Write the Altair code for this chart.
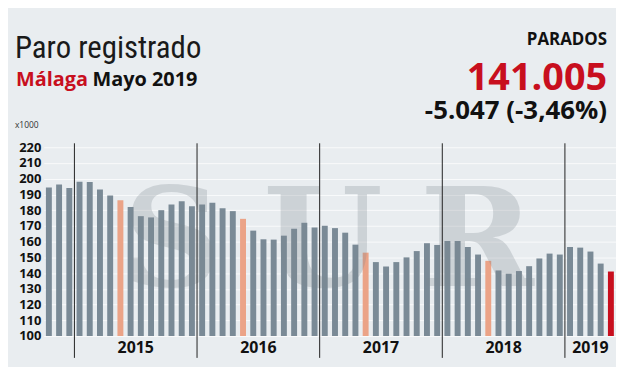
import altair as alt
import pandas as pd

# ---- data (thousands of registered unemployed, Málaga) ----
start_year = 2014
start_month = 10
values = [
    # 2014 Oct-Dec
    194.4, 196.4, 194.1,
    # 2015
    198.1, 197.9, 193.1, 189.3, 186.3, 182.1, 176.2, 175.4, 180.0, 183.6, 185.7, 182.5,
    # 2016
    183.6, 184.8, 181.3, 179.4, 174.5, 167.0, 161.5, 161.3, 163.8, 168.2, 172.0, 169.0,
    # 2017
    170.1, 168.6, 165.7, 158.1, 153.0, 147.0, 144.2, 147.0, 150.0, 154.0, 159.0, 157.9,
    # 2018
    160.4, 160.4, 156.6, 151.8, 147.8, 141.7, 139.6, 141.3, 144.4, 149.3, 152.4, 151.8,
    # 2019
    156.6, 156.2, 153.7, 146.052, 141.005,
]
year_labels = ["2015", "2016", "2017", "2018", "2019"]
year_anchor = ["2015-06", "2016-06", "2017-06", "2018-06", "2019-03"]
divider_months = ["2015-01", "2016-01", "2017-01", "2018-01", "2019-01"]
y_ticks = list(range(100, 221, 10))

months = []
y, m = start_year, start_month
for _ in values:
    months.append(f"{y}-{m:02d}")
    m += 1
    if m > 12:
        m = 1
        y += 1

kinds = []
for i, mo in enumerate(months):
    if i == len(months) - 1:
        kinds.append("actual")
    elif mo.endswith("-05"):
        kinds.append("mayo")
    else:
        kinds.append("normal")

df = pd.DataFrame({"month": months, "value": values, "kind": kinds})

W, H = 576, 190
STEP = W / len(values)

xscale = alt.Scale(domain=months, paddingInner=0.42, paddingOuter=0.21)
xenc = alt.X("month:N", sort=months, scale=xscale, axis=None)

bars = alt.Chart(df).mark_bar().encode(
    x=xenc,
    y=alt.Y(
        "value:Q",
        scale=alt.Scale(domain=[100, 220], nice=False, zero=False),
        axis=alt.Axis(
            values=y_ticks, title=None, domain=False, ticks=False,
            labelFontSize=13, labelFontWeight="bold", labelPadding=3,
            labelColor="#111", labelFont="Open Sans",
            grid=True, gridColor="#ffffff", gridOpacity=0.75,
        ),
    ),
    y2=alt.datum(100),
    color=alt.Color(
        "kind:N",
        scale=alt.Scale(domain=["normal", "mayo", "actual"],
                        range=["#7a8a96", "#eba387", "#c80f1e"]),
        legend=None,
    ),
)

div_df = pd.DataFrame({"month": divider_months})
dividers = alt.Chart(div_df).mark_rule(color="#222", strokeWidth=1, xOffset=-STEP / 2).encode(
    x=xenc, y=alt.value(-4), y2=alt.value(H + 22)
)

ydf = pd.DataFrame({"month": year_anchor[:4], "label": year_labels[:4]})
years1 = alt.Chart(ydf).mark_text(
    dx=STEP / 2, font="Open Sans", fontSize=16, fontWeight="bold", color="#111", baseline="alphabetic"
).encode(x=xenc, y=alt.value(H + 17), text="label:N")
ydf2 = pd.DataFrame({"month": year_anchor[4:], "label": year_labels[4:]})
years2 = alt.Chart(ydf2).mark_text(
    font="Open Sans", fontSize=16, fontWeight="bold", color="#111", baseline="alphabetic"
).encode(x=xenc, y=alt.value(H + 17), text="label:N")


def txt(s, x, y, size, weight="normal", color="#111", align="left",
        font="Open Sans", opacity=1.0):
    return alt.Chart(pd.DataFrame({"t": [s]})).mark_text(
        align=align, baseline="alphabetic", font=font, fontSize=size,
        fontWeight=weight, color=color, opacity=opacity,
    ).encode(x=alt.value(x), y=alt.value(y), text="t:N")


# watermark
wm_font = "'DejaVu Serif', 'Liberation Serif', serif"
wm = [
    txt("S", 129, 140, 138, "bold", "#7d878f", "center", wm_font, 0.26),
    txt("U", 281, 140, 138, "bold", "#7d878f", "center", wm_font, 0.26),
    txt("R", 436, 140, 138, "bold", "#7d878f", "center", wm_font, 0.26),
]

header = [
    txt("Paro registrado", -29, -90, 31, "normal", "#1a1a1a", "left",
        "'Liberation Sans Narrow', 'Roboto Condensed', 'Open Sans', sans-serif"),
    txt("Málaga", -28, -62, 20, "bold", "#c80f1e"),
    txt("Mayo 2019", 49, -62, 20, "bold", "#111"),
    txt("x1000", -29, -19, 8.5, "normal", "#333"),
    txt("PARADOS", 567, -103, 17, "bold", "#111", "right"),
    txt("141.005", 567, -58, 38, "bold", "#c80f1e", "right"),
    txt("-5.047 (-3,46%)", 567, -28, 26, "bold", "#111", "right"),
]

chart = alt.layer(bars, *wm, dividers, years1, years2, *header).properties(
    width=W, height=H,
    autosize=alt.AutoSizeParams(type="none"),
    padding={"left": 36, "top": 139, "right": 0, "bottom": 30},
    background="#e9edf0",
).configure_view(stroke=None)

chart.save("out.html", embed_options={"renderer": "svg", "actions": False})
